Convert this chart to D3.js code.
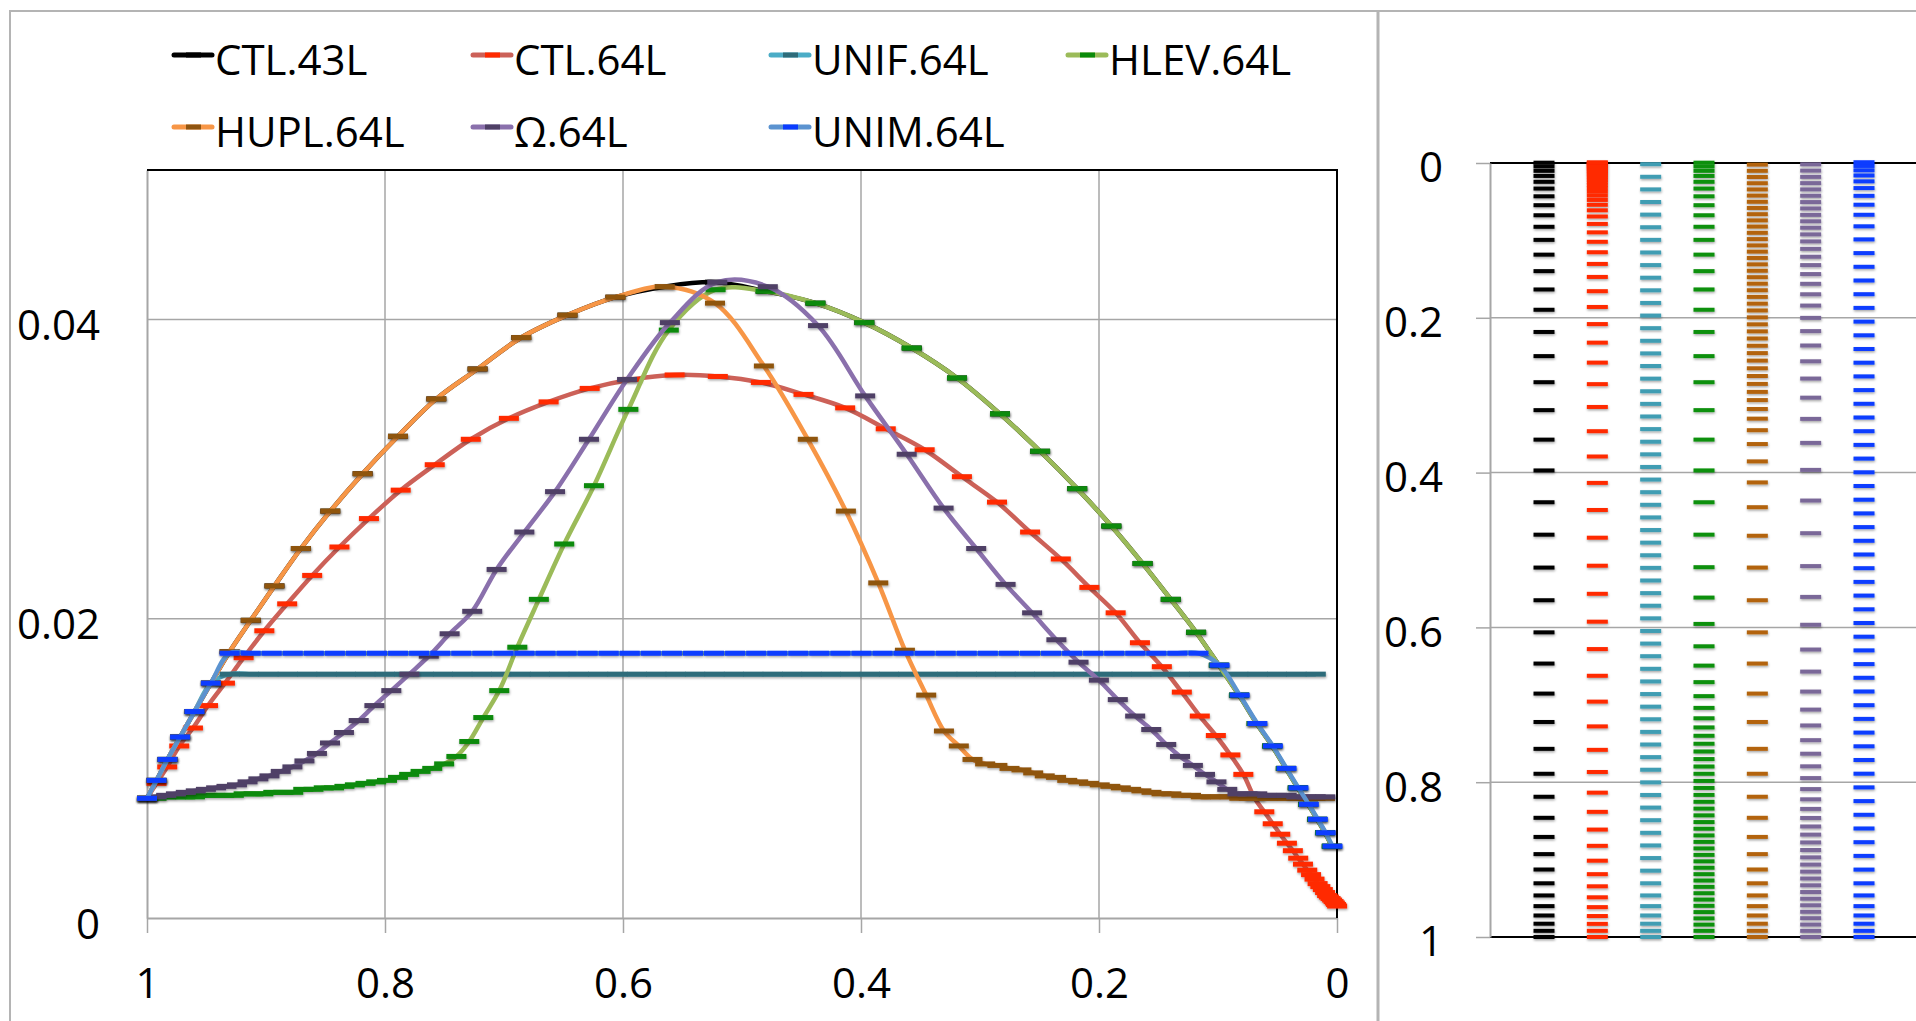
<!DOCTYPE html>
<html>
<head>
<meta charset="utf-8">
<script src="https://cdn.jsdelivr.net/npm/d3@7"></script>
<style>
  body { margin: 0; background: #fff; }
  svg { display: block; }
</style>
</head>
<body>
<script>
//Series in legend order
const seriesNames = ["CTL.43L", "CTL.64L", "UNIF.64L", "HLEV.64L", "HUPL.64L", "Ω.64L", "UNIM.64L"];

//Layer thickness (delta sigma) of each level, starting at sigma = 1
const ctl43 = [0.0080, 0.0092, 0.0106, 0.0121, 0.0138, 0.0157, 0.0178, 0.0199, 0.0222, 0.0247,
  0.0272, 0.0297, 0.0322, 0.0347, 0.0367, 0.0388, 0.0403, 0.0415, 0.0422, 0.0425,
  0.0419, 0.0411, 0.0398, 0.0381, 0.0361, 0.0337, 0.0312, 0.0287, 0.0262, 0.0237,
  0.0213, 0.0191, 0.0169, 0.0149, 0.0130, 0.0115, 0.0100, 0.0087, 0.0076, 0.0066,
  0.0057, 0.0048];

const ctl64 = [0.0080, 0.0090, 0.0101, 0.0115, 0.0127, 0.0142, 0.0157, 0.0174, 0.0192, 0.0210,
  0.0229, 0.0248, 0.0267, 0.0286, 0.0303, 0.0320, 0.0334, 0.0345, 0.0354, 0.0360,
  0.0363, 0.0362, 0.0358, 0.0350, 0.0341, 0.0327, 0.0313, 0.0295, 0.0278, 0.0258,
  0.0240, 0.0221, 0.0204, 0.0184, 0.0168, 0.0151, 0.0135, 0.0122, 0.0109, 0.0096,
  0.0080, 0.0071, 0.0063, 0.0056, 0.0050, 0.0045, 0.0040, 0.0036, 0.0032, 0.0029,
  0.0026, 0.0023, 0.0021, 0.0019, 0.0017, 0.0015, 0.0014, 0.0013, 0.0012, 0.0011,
  0.0010, 0.0009, 0.0008];

const unif = [0.0080, 0.0092, 0.0106, 0.0121, 0.0138, 0.0157,
  0.0163, 0.0163, 0.0163, 0.0163, 0.0163, 0.0163, 0.0163, 0.0163, 0.0163, 0.0163,
  0.0163, 0.0163, 0.0163, 0.0163, 0.0163, 0.0163, 0.0163, 0.0163, 0.0163, 0.0163,
  0.0163, 0.0163, 0.0163, 0.0163, 0.0163, 0.0163, 0.0163, 0.0163, 0.0163, 0.0163,
  0.0163, 0.0163, 0.0163, 0.0163, 0.0163, 0.0163, 0.0163, 0.0163, 0.0163, 0.0163,
  0.0163, 0.0163, 0.0163, 0.0163, 0.0163, 0.0163, 0.0163, 0.0163, 0.0163, 0.0163,
  0.0163, 0.0163, 0.0163, 0.0163, 0.0163, 0.0163, 0.0163];

const hlev = [0.0080, 0.0080, 0.0081, 0.0081, 0.0081, 0.0081, 0.0082, 0.0082, 0.0082, 0.0082,
  0.0083, 0.0083, 0.0083, 0.0084, 0.0084, 0.0084, 0.0086, 0.0086, 0.0087, 0.0087,
  0.0088, 0.0089, 0.0090, 0.0091, 0.0092, 0.0094, 0.0096, 0.0098, 0.0100, 0.0103,
  0.0108, 0.0118, 0.0134, 0.0152, 0.0181, 0.0213, 0.0250, 0.0289, 0.0340, 0.0393,
  0.0420, 0.0419, 0.0411, 0.0398, 0.0381, 0.0361, 0.0337, 0.0312, 0.0287, 0.0262,
  0.0237, 0.0213, 0.0191, 0.0169, 0.0149, 0.0130, 0.0115, 0.0100, 0.0087, 0.0076,
  0.0066, 0.0057, 0.0048];

const hupl = [0.0080, 0.0092, 0.0106, 0.0121, 0.0138, 0.0157, 0.0178, 0.0199, 0.0222, 0.0247,
  0.0272, 0.0297, 0.0322, 0.0347, 0.0367, 0.0388, 0.0403, 0.0415, 0.0422, 0.0411,
  0.0369, 0.0320, 0.0272, 0.0224, 0.0179, 0.0149, 0.0125, 0.0115, 0.0106, 0.0103,
  0.0102, 0.0100, 0.0099, 0.0097, 0.0095, 0.0094, 0.0092, 0.0091, 0.0090, 0.0089,
  0.0088, 0.0087, 0.0086, 0.0085, 0.0084, 0.0083, 0.0083, 0.0082, 0.0082, 0.0081,
  0.0081, 0.0081, 0.0081, 0.0080, 0.0080, 0.0080, 0.0080, 0.0080, 0.0080, 0.0080,
  0.0080, 0.0080, 0.0080];

const omega = [0.0080, 0.0081, 0.0082, 0.0083, 0.0084, 0.0085, 0.0086, 0.0087, 0.0088, 0.0089,
  0.0091, 0.0093, 0.0095, 0.0098, 0.0101, 0.0105, 0.0110, 0.0117, 0.0124, 0.0132,
  0.0142, 0.0152, 0.0163, 0.0175, 0.0190, 0.0205, 0.0233, 0.0258, 0.0285, 0.0320,
  0.0360, 0.0398, 0.0425, 0.0422, 0.0396, 0.0349, 0.0310, 0.0274, 0.0247, 0.0223,
  0.0204, 0.0186, 0.0171, 0.0159, 0.0146, 0.0135, 0.0126, 0.0116, 0.0108, 0.0102,
  0.0096, 0.0091, 0.0086, 0.0083, 0.0083, 0.0083, 0.0082, 0.0082, 0.0082, 0.0081,
  0.0081, 0.0081, 0.0081];

const unim = [0.0080, 0.0092, 0.0106, 0.0121, 0.0138, 0.0157,
  0.0177, 0.0177, 0.0177, 0.0177, 0.0177, 0.0177, 0.0177, 0.0177, 0.0177, 0.0177,
  0.0177, 0.0177, 0.0177, 0.0177, 0.0177, 0.0177, 0.0177, 0.0177, 0.0177, 0.0177,
  0.0177, 0.0177, 0.0177, 0.0177, 0.0177, 0.0177, 0.0177, 0.0177, 0.0177, 0.0177,
  0.0177, 0.0177, 0.0177, 0.0177, 0.0177, 0.0177, 0.0177, 0.0177, 0.0177, 0.0177,
  0.0177, 0.0177, 0.0177, 0.0177, 0.0177, 0.0177, 0.0177,
  0.0169, 0.0149, 0.0130, 0.0115, 0.0100, 0.0087, 0.0076, 0.0066, 0.0057, 0.0048];

//Tick labels
const xTicks = [1, 0.8, 0.6, 0.4, 0.2, 0];
const yTicks = [0, 0.02, 0.04];
const levelTicks = [0, 0.2, 0.4, 0.6, 0.8, 1];

const thickness = {
  "CTL.43L": ctl43, "CTL.64L": ctl64, "UNIF.64L": unif, "HLEV.64L": hlev,
  "HUPL.64L": hupl, "Ω.64L": omega, "UNIM.64L": unim
};

//Colours: line, marker on the left panel, dash on the right panel
const style = {
  "CTL.43L":  {line: "#000000", mark: "#000000", dash: "#000000"},
  "CTL.64L":  {line: "#cc6158", mark: "#ff2a00", dash: "#ff2a00"},
  "UNIF.64L": {line: "#4bacc6", mark: "#2e6c7a", dash: "#3f9db3"},
  "HLEV.64L": {line: "#9bbb59", mark: "#0a8a0a", dash: "#0c900c"},
  "HUPL.64L": {line: "#f79646", mark: "#8f5510", dash: "#b3640c"},
  "Ω.64L":    {line: "#8a70ac", mark: "#4f4066", dash: "#7a6798"},
  "UNIM.64L": {line: "#5b93d0", mark: "#0a3cff", dash: "#0a3cff"}
};

const font = "'Open Sans', 'Liberation Sans', sans-serif";
const gridGray = "#a6a6a6";

//Level positions: sigma goes down from 1 by each layer thickness
const series = seriesNames.map((name) => {
  const d = thickness[name];
  const levels = [1].concat(Array.from(d3.cumsum(d), (c) => 1 - c));
  return {name: name, levels: levels, pts: d.map((v, i) => ({s: levels[i], v: v}))};
});

//Create svg element
const svg = d3.select("body").append("svg")
  .attr("width", 1916)
  .attr("height", 1021)
  .style("font-family", font);

//Soft shadow under markers
svg.append("defs").append("filter")
  .attr("id", "shadow")
  .attr("x", "-20%").attr("y", "-20%").attr("width", "140%").attr("height", "140%")
  .append("feDropShadow")
    .attr("dx", 0.5).attr("dy", 1.5).attr("stdDeviation", 1)
    .attr("flood-color", "#000").attr("flood-opacity", 0.35);

//Panel frame
svg.append("path")
  .attr("d", "M10,1021 V11 H1916")
  .attr("fill", "none").attr("stroke", "#b4b4b4").attr("stroke-width", 2);
svg.append("line")
  .attr("x1", 1378).attr("x2", 1378).attr("y1", 11).attr("y2", 1021)
  .attr("stroke", "#b4b4b4").attr("stroke-width", 3);

// ---------- Left panel ----------
const x = d3.scaleLinear().domain([1, 0]).range([147, 1337]);
const y = d3.scaleLinear().domain([0, 0.05]).range([918, 170]);

//Gridlines
svg.append("g").selectAll("line")
  .data(xTicks.filter((t) => t > 0 && t < 1))
  .enter().append("line")
    .attr("x1", (d) => x(d)).attr("x2", (d) => x(d))
    .attr("y1", y(0)).attr("y2", y(0.05))
    .attr("stroke", gridGray).attr("stroke-width", 1.5);
svg.append("g").selectAll("line")
  .data(yTicks.filter((t) => t > 0))
  .enter().append("line")
    .attr("x1", x(1)).attr("x2", x(0))
    .attr("y1", (d) => y(d)).attr("y2", (d) => y(d))
    .attr("stroke", gridGray).attr("stroke-width", 1.5);

//Add x axis
const gx = svg.append("g")
  .attr("transform", "translate(0," + y(0) + ")")
  .call(d3.axisBottom(x).tickValues(xTicks).tickSize(15).tickSizeOuter(0)
    .tickPadding(35).tickFormat(d3.format("~g")));
gx.select(".domain").attr("stroke", gridGray).attr("stroke-width", 2);
gx.selectAll(".tick line").attr("stroke", gridGray).attr("stroke-width", 1.5);

//Add y axis
const gy = svg.append("g")
  .attr("transform", "translate(" + x(1) + ",0)")
  .call(d3.axisLeft(y).tickValues(yTicks).tickSize(0).tickSizeOuter(0)
    .tickPadding(47).tickFormat(d3.format("~g")));
gy.select(".domain").attr("stroke", gridGray).attr("stroke-width", 2);
gy.selectAll("text").attr("dy", "0.48em");

[gx, gy].forEach((g) => {
  g.attr("font-family", font).attr("font-size", 42);
  g.selectAll("text").attr("fill", "#000");
});

//Black top and right border of the plot area
svg.append("path")
  .attr("d", "M" + x(1) + "," + y(0.05) + " H" + x(0) + " V" + y(0))
  .attr("fill", "none").attr("stroke", "#000").attr("stroke-width", 2);

//Lines and markers, series by series
const line = d3.line()
  .x((d) => x(d.s))
  .y((d) => y(d.v))
  .curve(d3.curveCatmullRom.alpha(0.5));

series.forEach((sr) => {
  svg.append("path")
    .datum(sr.pts)
    .attr("d", line)
    .attr("fill", "none")
    .attr("stroke", style[sr.name].line)
    .attr("stroke-width", 4.5)
    .attr("stroke-linejoin", "round");

  svg.append("g")
    .attr("filter", "url(#shadow)")
    .selectAll("line")
    .data(sr.pts)
    .enter().append("line")
      .attr("x1", (d) => x(d.s) - 10)
      .attr("x2", (d) => x(d.s) + 10)
      .attr("y1", (d) => y(d.v))
      .attr("y2", (d) => y(d.v))
      .attr("stroke", style[sr.name].mark)
      .attr("stroke-width", 5);
});

//Legend
const legX = [174, 473, 771, 1068];
const legY = [55, 127];
const leg = svg.append("g").selectAll("g")
  .data(seriesNames)
  .enter().append("g")
    .attr("transform", (d, i) => "translate(" + legX[i % 4] + "," + legY[Math.floor(i / 4)] + ")");
leg.append("line")
  .attr("x1", 0).attr("x2", 38)
  .attr("stroke", (d) => style[d].line).attr("stroke-width", 5)
  .attr("stroke-linecap", "round");
leg.append("line")
  .attr("x1", 12).attr("x2", 27)
  .attr("stroke", (d) => style[d].mark).attr("stroke-width", 5);
leg.append("text")
  .attr("x", 41).attr("y", 20)
  .attr("font-size", 42)
  .text((d) => d);

// ---------- Right panel ----------
const ry = d3.scaleLinear().domain([0, 1]).range([163, 937]);
const rx = d3.scalePoint().domain(seriesNames).range([1544, 1864]);

//Gridlines across the panel
svg.append("g").selectAll("line")
  .data(levelTicks)
  .enter().append("line")
    .attr("x1", 1490).attr("x2", 1916)
    .attr("y1", (d) => ry(d)).attr("y2", (d) => ry(d))
    .attr("stroke", (d) => (d === 0 || d === 1) ? "#000" : gridGray)
    .attr("stroke-width", (d) => (d === 0 || d === 1) ? 2 : 1.5);

const gr = svg.append("g")
  .attr("transform", "translate(1490,0)")
  .call(d3.axisLeft(ry).tickValues(levelTicks).tickSize(14).tickSizeOuter(0)
    .tickPadding(33).tickFormat(d3.format("~g")));
gr.attr("font-family", font).attr("font-size", 42);
gr.select(".domain").attr("stroke", gridGray).attr("stroke-width", 2);
gr.selectAll(".tick line").attr("stroke", gridGray).attr("stroke-width", 1.5);
gr.selectAll("text").attr("fill", "#000").attr("dy", "0.45em");

//Level dashes
series.forEach((sr) => {
  svg.append("g")
    .attr("filter", "url(#shadow)")
    .selectAll("rect")
    .data(sr.levels)
    .enter().append("rect")
      .attr("x", rx(sr.name) - 10.5)
      .attr("y", (d) => ry(d) - 2)
      .attr("width", 21)
      .attr("height", 4)
      .attr("fill", style[sr.name].dash);
});
</script>
</body>
</html>
